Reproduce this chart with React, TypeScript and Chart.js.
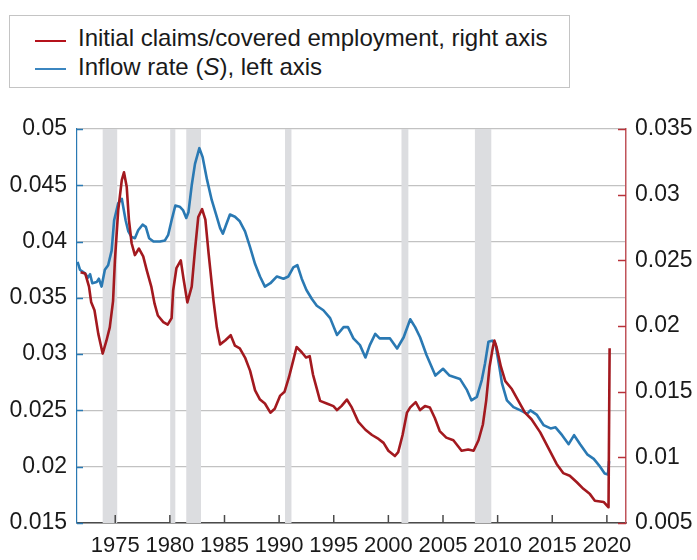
import { useEffect, useRef } from "react";
import { Chart, registerables } from "chart.js";
Chart.register(...registerables);

const inflowYears = [
  1971.55, 1971.77, 1972.2, 1972.5, 1972.7, 1972.9, 1973.3, 1973.5, 1973.75, 1974.05, 1974.35, 1974.67, 1974.9,
  1975.27, 1975.6, 1975.73, 1975.95, 1976.2, 1976.5, 1976.8, 1977.1, 1977.5, 1977.8, 1978.1, 1978.5, 1979.1,
  1979.55, 1979.85, 1980.16, 1980.5, 1980.9, 1981.2, 1981.5, 1981.7, 1982.0, 1982.3, 1982.7, 1983.0, 1983.4,
  1983.83, 1984.2, 1984.6, 1984.85, 1985.15, 1985.5, 1985.96, 1986.4, 1986.88, 1987.34, 1987.8, 1988.25, 1988.7,
  1989.2, 1989.8, 1990.4, 1990.85, 1991.3, 1991.67, 1992.07, 1992.5, 1993.0, 1993.45, 1994.05, 1994.67, 1995.3,
  1995.9, 1996.3, 1996.8, 1997.4, 1997.9, 1998.3, 1998.8, 1999.2, 1999.7, 2000.15, 2000.8, 2001.4, 2002.0,
  2002.45, 2002.9, 2003.5, 2004.3, 2005.0, 2005.6, 2006.55, 2007.2, 2007.6, 2008.1, 2008.55, 2008.85, 2009.16,
  2009.5, 2009.8, 2010.1, 2010.4, 2010.85, 2011.45, 2012.1, 2012.7, 2013.0, 2013.6, 2014.2, 2014.85, 2015.3,
  2015.9, 2016.5, 2017.0, 2017.55, 2018.2, 2018.8, 2019.3, 2019.8, 2020.1, 2020.2,
];
const inflowRate = [
  0.0382, 0.0375, 0.0372, 0.0368, 0.0371, 0.0363, 0.0364, 0.0367, 0.036, 0.0375, 0.0379, 0.0392, 0.0419,
  0.0434, 0.0438, 0.0431, 0.0419, 0.0409, 0.0404, 0.0403, 0.041, 0.0415, 0.0413, 0.0403, 0.04, 0.04,
  0.0401, 0.0406, 0.0419, 0.0432, 0.0431, 0.0428, 0.0421, 0.0426, 0.045, 0.0469, 0.0483, 0.0475, 0.0455,
  0.0437, 0.0425, 0.0412, 0.0407, 0.0415, 0.0424, 0.0422, 0.0418, 0.0409, 0.0395, 0.038, 0.0369, 0.036,
  0.0363, 0.0369, 0.0367, 0.0369, 0.0377, 0.0379, 0.0367, 0.0357, 0.0349, 0.0343, 0.0339, 0.0332, 0.0317,
  0.0324, 0.0324, 0.0314, 0.0308, 0.0297, 0.0308, 0.0318, 0.0314, 0.0314, 0.0314, 0.0305, 0.0315, 0.0331,
  0.0324, 0.0315, 0.0299, 0.0281, 0.0287, 0.0281, 0.0278, 0.0268, 0.0259, 0.0262, 0.0277, 0.0292, 0.0311,
  0.0312, 0.0309, 0.0292, 0.0274, 0.0259, 0.0253, 0.025, 0.0247, 0.025, 0.0246, 0.0237, 0.0234, 0.0235,
  0.0228, 0.022, 0.0228, 0.022, 0.0211, 0.0207, 0.0201, 0.0194, 0.0193, 0.0205,
];

const claimsYears = [
  1971.83, 1972.25, 1972.6, 1972.8, 1973.1, 1973.45, 1973.85, 1974.2, 1974.5, 1974.8, 1974.97, 1975.27, 1975.6,
  1975.8, 1976.05, 1976.25, 1976.5, 1976.8, 1977.17, 1977.56, 1977.9, 1978.3, 1978.6, 1978.9, 1979.4, 1979.8,
  1980.16, 1980.3, 1980.6, 1981.0, 1981.25, 1981.6, 1982.0, 1982.3, 1982.6, 1982.95, 1983.25, 1983.55, 1984.0,
  1984.3, 1984.6, 1985.06, 1985.57, 1985.96, 1986.4, 1986.88, 1987.34, 1987.8, 1988.25, 1988.7, 1989.2, 1989.6,
  1990.1, 1990.5, 1990.9, 1991.3, 1991.6, 1992.07, 1992.46, 1992.8, 1993.1, 1993.75, 1994.36, 1994.97, 1995.3,
  1995.7, 1996.2, 1996.65, 1997.25, 1997.9, 1998.5, 1999.1, 1999.56, 2000.0, 2000.6, 2000.9, 2001.3, 2001.7,
  2002.0, 2002.5, 2002.9, 2003.35, 2003.8, 2004.25, 2004.7, 2005.3, 2005.95, 2006.7, 2007.3, 2007.8, 2008.25,
  2008.65, 2008.95, 2009.26, 2009.57, 2009.7, 2009.9, 2010.3, 2010.7, 2011.3, 2011.9, 2012.5, 2013.1, 2013.9,
  2014.65, 2015.4, 2016.0, 2016.6, 2017.25, 2017.85, 2018.45, 2018.9, 2019.7, 2020.15, 2020.25,
];
const claimsRatio = [
  0.0241, 0.024, 0.023, 0.0218, 0.0212, 0.0194, 0.0179, 0.0189, 0.0199, 0.0219, 0.025, 0.0288, 0.0311,
  0.0317, 0.0306, 0.0281, 0.0263, 0.0254, 0.0259, 0.0253, 0.0242, 0.023, 0.0217, 0.0208, 0.0203, 0.0201,
  0.0206, 0.0227, 0.0244, 0.025, 0.0236, 0.0218, 0.023, 0.0258, 0.0283, 0.0289, 0.0281, 0.0255, 0.0219,
  0.0199, 0.0186, 0.0189, 0.0193, 0.0185, 0.0183, 0.0176, 0.0166, 0.0151, 0.0144, 0.0141, 0.0134, 0.0137,
  0.0147, 0.015, 0.0161, 0.0174, 0.0184, 0.018, 0.0176, 0.0177, 0.0163, 0.0143, 0.0141, 0.0139, 0.0136,
  0.0139, 0.0144, 0.0138, 0.0127, 0.0121, 0.0117, 0.0114, 0.0111, 0.0105, 0.0101, 0.0104, 0.0117, 0.0134,
  0.0138, 0.0142, 0.0136, 0.0139, 0.0138, 0.013, 0.012, 0.0115, 0.0113, 0.0105, 0.0106, 0.0105, 0.0113,
  0.0125, 0.0143, 0.0169, 0.0184, 0.0189, 0.0184, 0.0169, 0.0158, 0.0152, 0.0143, 0.0134, 0.0129, 0.0119,
  0.0107, 0.0095, 0.0088, 0.0086, 0.0081, 0.0076, 0.0072, 0.0067, 0.0066, 0.0062, 0.0183,
];

const yearTicks = [1975, 1980, 1985, 1990, 1995, 2000, 2005, 2010, 2015, 2020];
const yearTickLabels = ["1975", "1980", "1985", "1990", "1995", "2000", "2005", "2010", "2015", "2020"];
const leftTicks = [0.015, 0.02, 0.025, 0.03, 0.035, 0.04, 0.045, 0.05];
const leftTickLabels = ["0.015", "0.02", "0.025", "0.03", "0.035", "0.04", "0.045", "0.05"];
const rightTicks = [0.005, 0.01, 0.015, 0.02, 0.025, 0.03, 0.035];
const rightTickLabels = ["0.005", "0.01", "0.015", "0.02", "0.025", "0.03", "0.035"];

const recessionStarts = [1973.85, 1980.03, 1981.5, 1990.54, 2001.2, 2007.92];
const recessionEnds = [1975.18, 1980.5, 1982.85, 1991.13, 2001.83, 2009.42];

const FONT = "'Liberation Sans', Arial, Helvetica, sans-serif";
const RED = "#a3191f";
const BLUE = "#2a79b3";

const overlay = {
  id: "overlay",
  beforeDatasetsDraw(chart: any) {
    const { ctx, chartArea, scales } = chart;
    ctx.save();
    ctx.fillStyle = "#dcdde0";
    recessionStarts.forEach((a, i) => {
      const x0 = scales.x.getPixelForValue(a);
      const x1 = scales.x.getPixelForValue(recessionEnds[i]);
      ctx.fillRect(x0, chartArea.top, x1 - x0, chartArea.bottom - chartArea.top);
    });
    ctx.restore();
  },
  afterDraw(chart: any) {
    const { ctx, chartArea, scales } = chart;
    ctx.save();
    ctx.lineWidth = 1.5;
    ctx.strokeStyle = BLUE;
    leftTicks.forEach((v) => {
      const y = Math.round(scales.y.getPixelForValue(v)) + 0.5;
      ctx.beginPath();
      ctx.moveTo(chartArea.left, y);
      ctx.lineTo(chartArea.left + 6, y);
      ctx.stroke();
    });
    ctx.strokeStyle = "#b8323a";
    rightTicks.forEach((v) => {
      const y = Math.round(scales.y1.getPixelForValue(v)) + 0.5;
      ctx.beginPath();
      ctx.moveTo(chartArea.right - 8, y);
      ctx.lineTo(chartArea.right, y);
      ctx.stroke();
    });
    ctx.strokeStyle = "#4a4a4a";
    yearTicks.forEach((v) => {
      const x = scales.x.getPixelForValue(v);
      ctx.beginPath();
      ctx.moveTo(x, chartArea.bottom);
      ctx.lineTo(x, chartArea.bottom - 8);
      ctx.stroke();
    });
    ctx.restore();
  },
};

export default function App() {
  const ref = useRef<HTMLCanvasElement>(null);
  useEffect(() => {
    if (!ref.current) return;
    const chart = new Chart(ref.current, {
      type: "line",
      data: {
        datasets: [
          {
            label: "Initial claims/covered employment, right axis",
            data: claimsYears.map((x, i) => ({ x, y: claimsRatio[i] })),
            borderColor: RED,
            borderWidth: 2.6,
            pointRadius: 0,
            yAxisID: "y1",
            borderJoinStyle: "round",
          },
          {
            label: "Inflow rate (S), left axis",
            data: inflowYears.map((x, i) => ({ x, y: inflowRate[i] })),
            borderColor: BLUE,
            borderWidth: 2.6,
            pointRadius: 0,
            yAxisID: "y",
            borderJoinStyle: "round",
          },
        ],
      },
      options: {
        animation: false,
        responsive: false,
        layout: { padding: { top: 129, left: 0, right: 0, bottom: 0 } },
        plugins: { legend: { display: false }, tooltip: { enabled: false } },
        scales: {
          x: {
            type: "linear",
            min: 1971.5,
            max: 2021.75,
            afterBuildTicks: (s: any) => {
              s.ticks = yearTicks.map((v) => ({ value: v }));
            },
            afterFit: (s: any) => {
              s.height = 37;
            },
            ticks: {
              autoSkip: false,
              maxRotation: 0,
              padding: 10,
              color: "#1a1a1a",
              font: { family: FONT, size: 22 },
              callback: (v: any) => yearTickLabels[yearTicks.indexOf(v)] ?? String(v),
            },
            grid: { display: false, drawTicks: false },
            border: { color: "#4a4a4a", width: 1.5 },
          },
          y: {
            position: "left",
            min: 0.015,
            max: 0.05,
            afterBuildTicks: (s: any) => {
              s.ticks = leftTicks.map((v) => ({ value: v }));
            },
            afterFit: (s: any) => {
              s.width = 77;
            },
            ticks: {
              autoSkip: false,
              padding: 10,
              color: "#1a1a1a",
              font: { family: FONT, size: 23 },
              callback: (v: any) => leftTickLabels[leftTicks.indexOf(v)] ?? String(v),
            },
            grid: { color: "#c2c2c2", lineWidth: 1.3, drawTicks: false },
            border: { color: BLUE, width: 1.2 },
          },
          y1: {
            position: "right",
            min: 0.005,
            max: 0.035,
            afterBuildTicks: (s: any) => {
              s.ticks = rightTicks.map((v) => ({ value: v }));
            },
            afterFit: (s: any) => {
              s.width = 71;
            },
            ticks: {
              autoSkip: false,
              padding: 9,
              color: "#1a1a1a",
              font: { family: FONT, size: 23 },
              callback: (v: any) => rightTickLabels[rightTicks.indexOf(v)] ?? String(v),
            },
            grid: { display: false, drawTicks: false },
            border: { color: "#c0545a", width: 1.5 },
          },
        },
      } as any,
      plugins: [overlay],
    });
    return () => chart.destroy();
  }, []);

  const textStyle: any = {
    position: "absolute",
    left: 78,
    height: 29,
    lineHeight: "29px",
    fontSize: 24,
    fontFamily: FONT,
    color: "#1a1a1a",
    whiteSpace: "nowrap",
  };
  return (
    <div style={{ position: "absolute", left: 0, top: 0, width: 697, height: 560, background: "#fff" }}>
      <canvas ref={ref} width={697} height={560} style={{ position: "absolute", left: 0, top: 0 }} />
      <div
        style={{
          position: "absolute",
          left: 9,
          top: 15,
          width: 559,
          height: 71,
          border: "1px solid #c4c4c4",
          background: "#fff",
        }}
      />
      <div style={{ position: "absolute", left: 35, top: 40, width: 31, height: 2, background: "#b5121b" }} />
      <div style={{ ...textStyle, top: 23 }}>Initial claims/covered employment, right axis</div>
      <div style={{ position: "absolute", left: 35, top: 68, width: 31, height: 2, background: "#3b86c0" }} />
      <div style={{ ...textStyle, top: 52 }}>
        Inflow rate (<i>S</i>), left axis
      </div>
    </div>
  );
}
